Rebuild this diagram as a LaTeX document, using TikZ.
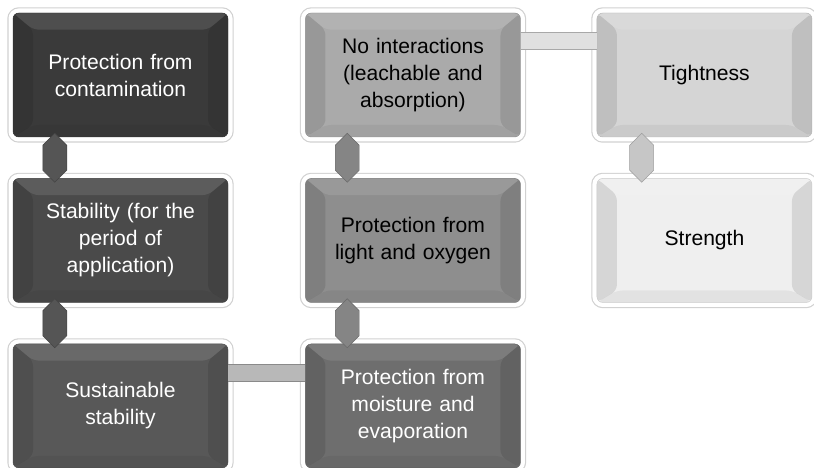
\documentclass[tikz,border=0pt]{standalone}
\usepackage{fontspec}
\setmainfont{Liberation Sans}
\usetikzlibrary{calc,arrows.meta,positioning}
\definecolor{boxa}{HTML}{3A3A3A}
\definecolor{boxb}{HTML}{4A4A4A}
\definecolor{boxc}{HTML}{585858}
\definecolor{boxd}{HTML}{6E6E6E}
\definecolor{boxe}{HTML}{8E8E8E}
\definecolor{boxf}{HTML}{AAAAAA}
\definecolor{boxg}{HTML}{D5D5D5}
\definecolor{boxh}{HTML}{EFEFEF}
\definecolor{lnka}{HTML}{B8B8B8}
\definecolor{lnkb}{HTML}{E0E0E0}
\definecolor{vlka}{HTML}{555555}
\definecolor{vlkb}{HTML}{858585}
\definecolor{vlkc}{HTML}{C6C6C6}
\tikzset{
  bx/.style 2 args={rectangle,rounded corners=5pt,minimum width=6.45cm,minimum height=3.72cm,
    text width=6cm,align=center,fill=#1,text=#2,draw=#1!85!black,thin,
    font=\fontsize{18}{23}\selectfont,
    preaction={draw=black!18,line width=0.34cm},
    preaction={draw=white,line width=0.27cm},
    path picture={
      \coordinate (pnw) at (path picture bounding box.north west);
      \coordinate (pne) at (path picture bounding box.north east);
      \coordinate (psw) at (path picture bounding box.south west);
      \coordinate (pse) at (path picture bounding box.south east);
      \fill[black,opacity=.10] (pnw)--(psw)--($(psw)+(0.6cm,0.36cm)$)--($(pnw)+(0.6cm,-0.5cm)$)--cycle;
      \fill[black,opacity=.10] (pne)--(pse)--($(pse)+(-0.6cm,0.36cm)$)--($(pne)+(-0.6cm,-0.5cm)$)--cycle;
      \fill[white,opacity=.10] (pnw)--(pne)--($(pne)+(-0.6cm,-0.5cm)$)--($(pnw)+(0.6cm,-0.5cm)$)--cycle;
      \fill[black,opacity=.05] (psw)--(pse)--($(pse)+(-0.6cm,0.36cm)$)--($(psw)+(0.6cm,0.36cm)$)--cycle;
    }},
  vlink/.style={fill=#1,draw=#1!80!black,thin,
    to path={($(\tikztostart)+(-0.36,-0.24)$) -- ($(\tikztostart)+(0,0.12)$) -- ($(\tikztostart)+(0.36,-0.24)$)
      -- ($(\tikztotarget)+(0.36,0.24)$) -- ($(\tikztotarget)+(0,-0.12)$) -- ($(\tikztotarget)+(-0.36,0.24)$) -- cycle}},
  hlink/.style={line width=0.7pt,draw=#1!75!black,double=#1,double distance=0.48cm}
}
\begin{document}
\begin{tikzpicture}
\useasboundingbox (0,0) rectangle (24.42,14.04);
\node[bx={boxa}{white}] (cont) at (3.615,11.79) {Protection from\\contamination};
\node[bx={boxb}{white},below=1.23cm of cont] (stab) {Stability (for the\\period of\\application)};
\node[bx={boxc}{white},below=1.23cm of stab] (sust) {Sustainable\\stability};
\node[bx={boxe}{black},right=2.31cm of stab] (light) {Protection from\\light and oxygen};
\node[bx={boxf}{black},above=1.23cm of light] (noint) {No interactions\\(leachable and\\absorption)};
\node[bx={boxd}{white},below=1.23cm of light] (moist) {Protection from\\moisture and\\evaporation};
\node[bx={boxg}{black},right=2.28cm of noint] (tight) {Tightness};
\node[bx={boxh}{black},below=1.23cm of tight] (stren) {Strength};

\draw[vlink=vlka] ($(cont.south west)+(1.26,0)$) to ($(stab.north west)+(1.26,0)$);
\draw[vlink=vlka] ($(stab.south west)+(1.26,0)$) to ($(sust.north west)+(1.26,0)$);
\draw[vlink=vlkb] ($(noint.south west)+(1.26,0)$) to ($(light.north west)+(1.26,0)$);
\draw[vlink=vlkb] ($(light.south west)+(1.26,0)$) to ($(moist.north west)+(1.26,0)$);
\draw[vlink=vlkc] ($(tight.south west)+(1.35,0)$) to ($(stren.north west)+(1.35,0)$);
\draw[hlink=lnka] ($(sust.north east)+(0,-0.87)$) -- ($(moist.north west)+(0,-0.87)$);
\draw[hlink=lnkb] ($(noint.north east)+(0,-0.84)$) -- ($(tight.north west)+(0,-0.84)$);
\end{tikzpicture}
\end{document}
